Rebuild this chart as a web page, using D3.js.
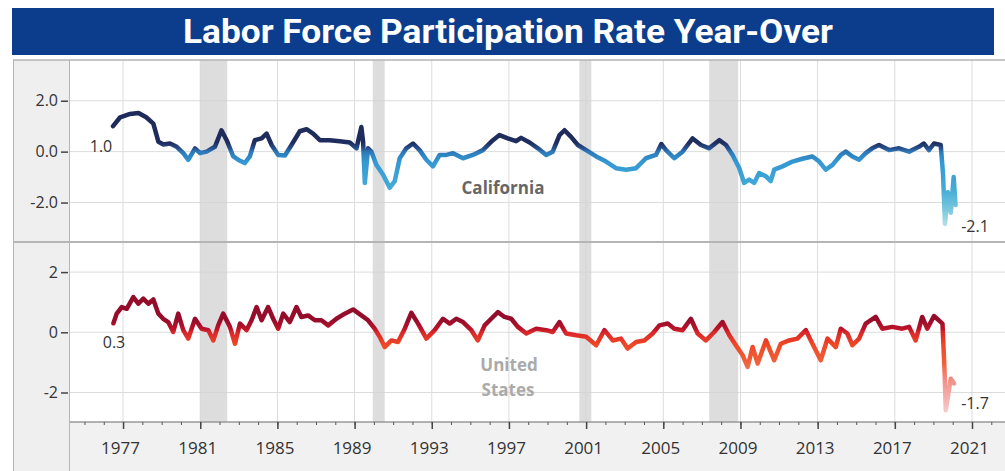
<!DOCTYPE html>
<html>
<head>
<meta charset="utf-8">
<script src="https://cdn.jsdelivr.net/npm/d3@7"></script>
<style>
  body { margin: 0; background: #fff; }
  svg { display: block; }
</style>
</head>
<body>
<svg id="chart" width="1005" height="471"></svg>
<script>
// California, year-over-year change (pct points)
var caDates = [1976.48, 1976.85, 1977.36, 1977.8, 1978.2, 1978.57, 1978.83, 1979.09, 1979.43, 1979.78,
	1980.12, 1980.38, 1980.73, 1980.99, 1981.33, 1981.76, 1982.1, 1982.37, 1982.71, 1983.06,
	1983.31, 1983.57, 1983.83, 1984.18, 1984.44, 1984.7, 1985.04, 1985.39, 1985.73, 1986.16,
	1986.51, 1986.85, 1987.2, 1987.71, 1988.23, 1988.75, 1989.1, 1989.35, 1989.44, 1989.53,
	1989.7, 1989.87, 1990.13, 1990.47, 1990.82, 1991.08, 1991.34, 1991.68, 1992.03, 1992.37,
	1992.72, 1993.06, 1993.41, 1993.76, 1994.1, 1994.62, 1995.13, 1995.65, 1996.17, 1996.51,
	1996.94, 1997.37, 1997.63, 1998.07, 1998.5, 1998.93, 1999.27, 1999.62, 1999.88, 2000.22,
	2000.57, 2001.0, 2001.52, 2002.03, 2002.55, 2003.07, 2003.59, 2004.1, 2004.62, 2004.9,
	2005.14, 2005.57, 2006.0, 2006.52, 2006.95, 2007.38, 2007.9, 2008.25, 2008.59, 2008.94,
	2009.19, 2009.45, 2009.71, 2009.97, 2010.32, 2010.57, 2010.75, 2011.18, 2011.7, 2012.21,
	2012.73, 2013.08, 2013.42, 2013.77, 2014.2, 2014.46, 2014.8, 2015.15, 2015.49, 2015.83,
	2016.18, 2016.7, 2017.22, 2017.74, 2018.25, 2018.51, 2018.77, 2019.03, 2019.38, 2019.5,
	2019.6, 2019.75, 2019.9, 2020.05, 2020.15];
var caRate = [1.0, 1.35, 1.48, 1.52, 1.35, 1.1, 0.39, 0.28, 0.32, 0.19,
	-0.06, -0.32, 0.13, -0.06, 0.0, 0.19, 0.84, 0.45, -0.19, -0.36,
	-0.45, -0.19, 0.45, 0.52, 0.71, 0.26, -0.13, -0.15, 0.26, 0.8,
	0.88, 0.71, 0.45, 0.45, 0.41, 0.36, 0.13, 0.97, 0.4, -1.23,
	0.13, 0.0, -0.52, -0.9, -1.42, -1.16, -0.26, 0.13, 0.32, 0.06,
	-0.32, -0.58, -0.13, -0.13, -0.06, -0.26, -0.13, 0.06, 0.45, 0.65,
	0.52, 0.41, 0.54, 0.36, 0.13, -0.13, 0.0, 0.65, 0.84, 0.58,
	0.26, 0.06, -0.19, -0.39, -0.65, -0.71, -0.65, -0.26, -0.13, 0.3,
	0.06, -0.26, 0.0, 0.52, 0.26, 0.13, 0.45, 0.26, -0.13, -0.65,
	-1.23, -1.1, -1.23, -0.84, -0.97, -1.16, -0.71, -0.58, -0.39, -0.28,
	-0.19, -0.39, -0.71, -0.52, -0.13, 0.0, -0.19, -0.32, -0.06, 0.13,
	0.26, 0.06, 0.13, 0.0, 0.19, 0.32, 0.06, 0.32, 0.26, -0.9,
	-2.84, -1.6, -2.4, -1.0, -2.1];

// United States
var usDates = [1976.5, 1976.67, 1976.93, 1977.19, 1977.53, 1977.79, 1978.05, 1978.31, 1978.57, 1978.83,
	1979.08, 1979.34, 1979.6, 1979.86, 1980.12, 1980.38, 1980.73, 1981.07, 1981.42, 1981.68,
	1981.93, 1982.19, 1982.54, 1982.8, 1983.06, 1983.4, 1983.66, 1983.92, 1984.18, 1984.52,
	1984.78, 1985.04, 1985.3, 1985.64, 1985.99, 1986.24, 1986.59, 1986.94, 1987.28, 1987.63,
	1988.06, 1988.49, 1988.92, 1989.35, 1989.7, 1990.04, 1990.3, 1990.56, 1990.91, 1991.25,
	1991.6, 1991.94, 1992.29, 1992.72, 1993.15, 1993.58, 1993.93, 1994.27, 1994.62, 1995.05,
	1995.39, 1995.74, 1996.08, 1996.43, 1996.77, 1997.12, 1997.46, 1997.9, 1998.41, 1998.93,
	1999.27, 1999.62, 1999.96, 2000.48, 2001.0, 2001.52, 2001.95, 2002.38, 2002.81, 2003.15,
	2003.59, 2004.02, 2004.45, 2004.8, 2005.23, 2005.57, 2006.0, 2006.43, 2006.78, 2007.21,
	2007.64, 2008.07, 2008.42, 2008.76, 2009.11, 2009.37, 2009.63, 2009.89, 2010.32, 2010.75,
	2011.09, 2011.52, 2011.95, 2012.39, 2012.73, 2013.16, 2013.51, 2013.94, 2014.2, 2014.54,
	2014.8, 2015.15, 2015.49, 2016.01, 2016.35, 2016.87, 2017.39, 2017.74, 2018.08, 2018.42,
	2018.68, 2019.03, 2019.47, 2019.58, 2019.64, 2019.9, 2020.07];
var usRate = [0.3, 0.62, 0.84, 0.78, 1.17, 0.95, 1.12, 0.95, 1.09, 0.62,
	0.45, 0.34, 0.01, 0.62, 0.07, -0.21, 0.45, 0.12, 0.07, -0.27,
	0.23, 0.62, 0.18, -0.38, 0.29, 0.07, 0.4, 0.84, 0.4, 0.84,
	0.45, 0.12, 0.62, 0.34, 0.84, 0.51, 0.56, 0.4, 0.4, 0.23,
	0.45, 0.62, 0.76, 0.56, 0.4, 0.12, -0.15, -0.49, -0.27, -0.32,
	0.12, 0.65, 0.29, -0.21, 0.07, 0.45, 0.29, 0.45, 0.34, 0.07,
	-0.27, 0.23, 0.45, 0.67, 0.51, 0.45, 0.18, -0.04, 0.12, 0.07,
	0.01, 0.34, -0.04, -0.1, -0.15, -0.43, 0.07, -0.27, -0.21, -0.54,
	-0.32, -0.27, -0.04, 0.23, 0.29, 0.12, 0.07, 0.45, -0.04, -0.27,
	0.01, 0.34, -0.1, -0.43, -0.76, -1.15, -0.49, -1.04, -0.27, -0.93,
	-0.38, -0.27, -0.21, 0.07, -0.38, -0.93, -0.21, -0.49, 0.12, -0.04,
	-0.43, -0.21, 0.29, 0.51, 0.12, 0.18, 0.12, 0.18, -0.27, 0.51,
	0.12, 0.54, 0.29, -1.31, -2.59, -1.54, -1.7];

// recession shading [start, end]
var recessions = [[1981.0, 1982.4], [1989.94, 1990.56], [2000.65, 2001.27], [2007.38, 2008.88]];

var xTicks = [1977, 1981, 1985, 1989, 1993, 1997, 2001, 2005, 2009, 2013, 2017, 2021];
var caTicks = [2, 0, -2];
var usTicks = [2, 0, -2];

var svg = d3.select("#chart");

var plotLeft = 70, plotRight = 999;
var topY0 = 60, midY = 242, botY1 = 422;

var x = d3.scaleLinear().domain([1974.25, 2022.4]).range([plotLeft, plotRight]);
var yTop = d3.scaleLinear().domain([-3.55, 3.6]).range([midY, topY0]);
var yBot = d3.scaleLinear().domain([-2.98, 3.0]).range([botY1, midY]);

// plain hyphen for negatives, like the original
var locale = d3.formatLocale({ decimal: ".", thousands: ",", grouping: [3], currency: ["$", ""], minus: "-" });
var fmt1 = locale.format(".1f");
var fmt0 = locale.format("d");

var font = "'Open Sans', 'DejaVu Sans', sans-serif";

// title bar
svg.append("rect")
	.attr("x", 12).attr("y", 8)
	.attr("width", 982).attr("height", 47)
	.attr("fill", "#0b3d8c");

svg.append("text")
	.attr("x", 508).attr("y", 43)
	.attr("text-anchor", "middle")
	.attr("fill", "#fff")
	.attr("font-family", "'Liberation Sans Narrow', 'Arial Narrow', Roboto, sans-serif")
	.attr("font-weight", "bold")
	.attr("font-size", 33)
	.attr("textLength", 650)
	.attr("lengthAdjust", "spacingAndGlyphs")
	.text("Labor Force Participation Rate Year-Over");

// axis strips
svg.append("rect")
	.attr("x", 13).attr("y", topY0)
	.attr("width", plotLeft - 13).attr("height", 471 - topY0)
	.attr("fill", "#efefef");
svg.append("rect")
	.attr("x", plotLeft).attr("y", botY1)
	.attr("width", plotRight - plotLeft + 6).attr("height", 471 - botY1)
	.attr("fill", "#f1f1f1");

// gridlines
var grid = svg.append("g").attr("stroke", "#dcdcdc").attr("stroke-width", 1);
grid.selectAll(".vgrid")
	.data(xTicks)
	.enter()
	.append("line")
		.attr("x1", function(d) { return x(d); })
		.attr("x2", function(d) { return x(d); })
		.attr("y1", topY0).attr("y2", botY1);
grid.selectAll(".hgridTop")
	.data(caTicks)
	.enter()
	.append("line")
		.attr("x1", plotLeft).attr("x2", plotRight + 6)
		.attr("y1", function(d) { return yTop(d); })
		.attr("y2", function(d) { return yTop(d); });
grid.selectAll(".hgridBot")
	.data(usTicks)
	.enter()
	.append("line")
		.attr("x1", plotLeft).attr("x2", plotRight + 6)
		.attr("y1", function(d) { return yBot(d); })
		.attr("y2", function(d) { return yBot(d); });

// recession bands
svg.append("g")
	.selectAll("rect")
	.data(recessions)
	.enter()
	.append("rect")
		.attr("x", function(d) { return x(d[0]); })
		.attr("width", function(d) { return x(d[1]) - x(d[0]); })
		.attr("y", topY0).attr("height", botY1 - topY0)
		.attr("fill", "#d2d2d2")
		.attr("opacity", 0.75);

// frame
var frame = svg.append("g").attr("stroke", "#b5b5b5").attr("fill", "none");
frame.append("line").attr("x1", 13).attr("x2", 1005).attr("y1", topY0).attr("y2", topY0).attr("stroke-width", 1.5);
frame.append("line").attr("x1", 13).attr("x2", 1005).attr("y1", midY).attr("y2", midY).attr("stroke-width", 2);
frame.append("line").attr("x1", 13.5).attr("x2", 13.5).attr("y1", topY0).attr("y2", 471);
frame.append("line").attr("x1", plotLeft - 0.5).attr("x2", plotLeft - 0.5).attr("y1", topY0).attr("y2", 471);

// colour gradients keyed to value
var defs = svg.append("defs");
function addGradient(id, y, stops) {
	var g = defs.append("linearGradient")
		.attr("id", id)
		.attr("gradientUnits", "userSpaceOnUse")
		.attr("x1", 0).attr("x2", 0)
		.attr("y1", y(y.domain()[1])).attr("y2", y(y.domain()[0]));
	var span = y(y.domain()[0]) - y(y.domain()[1]);
	stops.forEach(function(s) {
		g.append("stop")
			.attr("offset", (y(s[0]) - y(y.domain()[1])) / span)
			.attr("stop-color", s[1]);
	});
}
addGradient("caGrad", yTop, [[3.6, "#1b2550"], [0.35, "#1f2d5e"], [0.12, "#27528f"], [0, "#2c78b8"],
	[-0.4, "#3498d2"], [-1.5, "#45acd8"], [-2.2, "#74c5dc"], [-2.9, "#b3e0e4"]]);
addGradient("usGrad", yBot, [[3.0, "#8a0b2a"], [0.4, "#960d2b"], [0.12, "#bb1229"], [0, "#d8262a"],
	[-0.4, "#ef4726"], [-1.0, "#f0603a"], [-1.6, "#f29088"], [-2.6, "#f7c8c8"]]);

var caLine = d3.line()
	.x(function(d, i) { return x(caDates[i]); })
	.y(function(d) { return yTop(d); });
var usLine = d3.line()
	.x(function(d, i) { return x(usDates[i]); })
	.y(function(d) { return yBot(d); });

svg.append("path")
	.datum(caRate)
	.attr("d", caLine)
	.attr("fill", "none")
	.attr("stroke", "url(#caGrad)")
	.attr("stroke-width", 4.5)
	.attr("stroke-linejoin", "round")
	.attr("stroke-linecap", "round");

svg.append("path")
	.datum(usRate)
	.attr("d", usLine)
	.attr("fill", "none")
	.attr("stroke", "url(#usGrad)")
	.attr("stroke-width", 4.5)
	.attr("stroke-linejoin", "round")
	.attr("stroke-linecap", "round");

// y axes
function styleAxis(g) {
	g.select(".domain").remove();
	g.selectAll(".tick line").attr("stroke", "#444").attr("stroke-width", 1.5);
	g.selectAll(".tick text")
		.attr("fill", "#333")
		.attr("font-family", font)
		.attr("font-size", 16);
}
svg.append("g")
	.attr("transform", "translate(" + (plotLeft - 2) + ",0)")
	.call(d3.axisLeft(yTop).tickValues(caTicks).tickFormat(fmt1).tickSize(7).tickPadding(3))
	.call(styleAxis);
svg.append("g")
	.attr("transform", "translate(" + (plotLeft - 2) + ",0)")
	.call(d3.axisLeft(yBot).tickValues(usTicks).tickFormat(fmt0).tickSize(7).tickPadding(3))
	.call(styleAxis);

// x axis
var xAxisG = svg.append("g")
	.attr("transform", "translate(0," + botY1 + ")");
xAxisG.append("line")
	.attr("x1", plotLeft).attr("x2", 1005)
	.attr("stroke", "#999").attr("stroke-width", 1.5);
xAxisG.call(d3.axisBottom(x).tickValues(d3.range(1975, 2023)).tickSize(3).tickFormat(""))
	.call(function(g) {
		g.select(".domain").remove();
		g.selectAll(".tick line").attr("stroke", "#555");
	});
var xMajor = svg.append("g")
	.attr("transform", "translate(0," + botY1 + ")")
	.call(d3.axisBottom(x).tickValues(xTicks).tickFormat(fmt0).tickSize(7).tickPadding(13));
xMajor.select(".domain").remove();
xMajor.selectAll(".tick line").attr("stroke", "#444").attr("stroke-width", 1.5);
xMajor.selectAll(".tick text")
	.attr("fill", "#333")
	.attr("font-family", font)
	.attr("font-size", 17)
	.attr("dx", -3);

// annotations
function note(tx, ty, str, opts) {
	opts = opts || {};
	svg.append("text")
		.attr("x", tx).attr("y", ty)
		.attr("text-anchor", "middle")
		.attr("dominant-baseline", "central")
		.attr("fill", opts.fill || "#333")
		.attr("font-weight", opts.weight || "normal")
		.attr("font-family", font)
		.attr("font-size", opts.size || 16)
		.text(str);
}
note(101, 146, fmt1(caRate[0]));
note(114, 342, fmt1(usRate[0]));
note(975, 226, fmt1(caRate[caRate.length - 1]));
note(975, 403, fmt1(usRate[usRate.length - 1]));
note(503, 187, "California", { fill: "#666", weight: "bold", size: 17 });
note(509, 364, "United", { fill: "#aaa", weight: "bold", size: 17 });
note(508, 389, "States", { fill: "#aaa", weight: "bold", size: 17 });
</script>
</body>
</html>
